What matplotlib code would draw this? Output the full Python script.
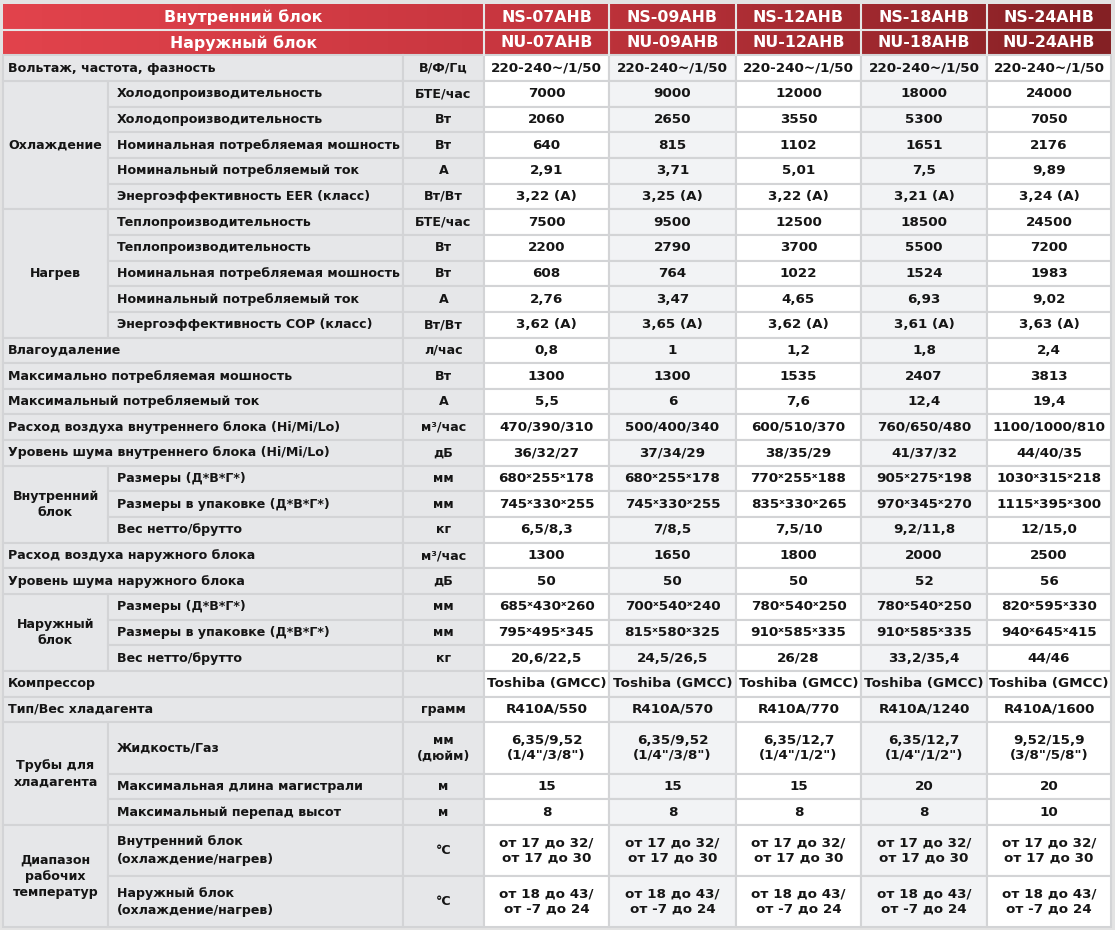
import numpy as np
import matplotlib.pyplot as plt
from matplotlib.patches import Rectangle
from matplotlib.colors import LinearSegmentedColormap

# Header models
indoor_models = ["NS-07AHB", "NS-09AHB", "NS-12AHB", "NS-18AHB", "NS-24AHB"]
outdoor_models = ["NU-07AHB", "NU-09AHB", "NU-12AHB", "NU-18AHB", "NU-24AHB"]

# Row labels and units
params = [
    "Вольтаж, частота, фазность",
    "Холодопроизводительность",
    "Холодопроизводительность",
    "Номинальная потребляемая мошность",
    "Номинальный потребляемый ток",
    "Энергоэффективность EER (класс)",
    "Теплопроизводительность",
    "Теплопроизводительность",
    "Номинальная потребляемая мошность",
    "Номинальный потребляемый ток",
    "Энергоэффективность COP (класс)",
    "Влагоудаление",
    "Максимально потребляемая мошность",
    "Максимальный потребляемый ток",
    "Расход воздуха внутреннего блока (Hi/Mi/Lo)",
    "Уровень шума внутреннего блока (Hi/Mi/Lo)",
    "Размеры (Д*В*Г*)",
    "Размеры в упаковке (Д*В*Г*)",
    "Вес нетто/брутто",
    "Расход воздуха наружного блока",
    "Уровень шума наружного блока",
    "Размеры (Д*В*Г*)",
    "Размеры в упаковке (Д*В*Г*)",
    "Вес нетто/брутто",
    "Компрессор",
    "Тип/Вес хладагента",
    "Жидкость/Газ",
    "Максимальная длина магистрали",
    "Максимальный перепад высот",
    "Внутренний блок\n(охлаждение/нагрев)",
    "Наружный блок\n(охлаждение/нагрев)",
]
units = [
    "В/Ф/Гц", "БТЕ/час", "Вт", "Вт", "А", "Вт/Вт",
    "БТЕ/час", "Вт", "Вт", "А", "Вт/Вт",
    "л/час", "Вт", "А", "м³/час", "дБ",
    "мм", "мм", "кг", "м³/час", "дБ",
    "мм", "мм", "кг", "", "грамм",
    "мм\n(дюйм)", "м", "м", "°C", "°C",
]

# Values per model column
ns07 = ["220-240~/1/50", "7000", "2060", "640", "2,91", "3,22 (А)",
        "7500", "2200", "608", "2,76", "3,62 (А)",
        "0,8", "1300", "5,5", "470/390/310", "36/32/27",
        "680ˣ255ˣ178", "745ˣ330ˣ255", "6,5/8,3", "1300", "50",
        "685ˣ430ˣ260", "795ˣ495ˣ345", "20,6/22,5", "Toshiba (GMCC)", "R410A/550",
        "6,35/9,52\n(1/4\"/3/8\")", "15", "8",
        "от 17 до 32/\nот 17 до 30", "от 18 до 43/\nот -7 до 24"]
ns09 = ["220-240~/1/50", "9000", "2650", "815", "3,71", "3,25 (А)",
        "9500", "2790", "764", "3,47", "3,65 (А)",
        "1", "1300", "6", "500/400/340", "37/34/29",
        "680ˣ255ˣ178", "745ˣ330ˣ255", "7/8,5", "1650", "50",
        "700ˣ540ˣ240", "815ˣ580ˣ325", "24,5/26,5", "Toshiba (GMCC)", "R410A/570",
        "6,35/9,52\n(1/4\"/3/8\")", "15", "8",
        "от 17 до 32/\nот 17 до 30", "от 18 до 43/\nот -7 до 24"]
ns12 = ["220-240~/1/50", "12000", "3550", "1102", "5,01", "3,22 (А)",
        "12500", "3700", "1022", "4,65", "3,62 (А)",
        "1,2", "1535", "7,6", "600/510/370", "38/35/29",
        "770ˣ255ˣ188", "835ˣ330ˣ265", "7,5/10", "1800", "50",
        "780ˣ540ˣ250", "910ˣ585ˣ335", "26/28", "Toshiba (GMCC)", "R410A/770",
        "6,35/12,7\n(1/4\"/1/2\")", "15", "8",
        "от 17 до 32/\nот 17 до 30", "от 18 до 43/\nот -7 до 24"]
ns18 = ["220-240~/1/50", "18000", "5300", "1651", "7,5", "3,21 (А)",
        "18500", "5500", "1524", "6,93", "3,61 (А)",
        "1,8", "2407", "12,4", "760/650/480", "41/37/32",
        "905ˣ275ˣ198", "970ˣ345ˣ270", "9,2/11,8", "2000", "52",
        "780ˣ540ˣ250", "910ˣ585ˣ335", "33,2/35,4", "Toshiba (GMCC)", "R410A/1240",
        "6,35/12,7\n(1/4\"/1/2\")", "20", "8",
        "от 17 до 32/\nот 17 до 30", "от 18 до 43/\nот -7 до 24"]
ns24 = ["220-240~/1/50", "24000", "7050", "2176", "9,89", "3,24 (А)",
        "24500", "7200", "1983", "9,02", "3,63 (А)",
        "2,4", "3813", "19,4", "1100/1000/810", "44/40/35",
        "1030ˣ315ˣ218", "1115ˣ395ˣ300", "12/15,0", "2500", "56",
        "820ˣ595ˣ330", "940ˣ645ˣ415", "44/46", "Toshiba (GMCC)", "R410A/1600",
        "9,52/15,9\n(3/8\"/5/8\")", "20", "10",
        "от 17 до 32/\nот 17 до 30", "от 18 до 43/\nот -7 до 24"]
columns = [ns07, ns09, ns12, ns18, ns24]

# Group labels: (name, first row, number of rows)
groups = [
    ("Охлаждение", 1, 5),
    ("Нагрев", 6, 5),
    ("Внутренний\nблок", 16, 3),
    ("Наружный\nблок", 21, 3),
    ("Трубы для\nхладагента", 26, 3),
    ("Диапазон\nрабочих\nтемператур", 29, 2),
]
double_rows = [26, 29, 30]

# Layout (pixels)
x_edges = [3, 108, 403, 484, 609, 736, 861, 987, 1111]
top = 5
head_h = 25.2
unit_h = 25.65
label_bg = "#E6E7E9"
line_c = "#D3D4D6"
text_c = "#151515"
font = ["DejaVu Sans"]
fs = 9.1      # labels
fs_val = 9.7  # values
fs_head = 11.3

fig = plt.figure(figsize=(11.15, 9.3), dpi=100, facecolor="#E3E3E3")
ax = fig.add_axes([0, 0, 1, 1])
ax.set_xlim(0, 1115)
ax.set_ylim(930, 0)
ax.axis("off")

# header gradient
cmap = LinearSegmentedColormap.from_list(
    "hdr", [(0, "#E2434C"), (0.45, "#C8363F"), (1, "#842024")])
ax.imshow(np.linspace(0, 1, 256)[None, :], cmap=cmap, aspect="auto",
          extent=[x_edges[0], x_edges[-1], top + 2 * head_h, top], zorder=0)
hdr_line = dict(color="#E6E6E6", lw=1.5, zorder=2)
ax.plot([x_edges[0], x_edges[-1]], [top + head_h] * 2, **hdr_line)
for xe in x_edges[3:-1]:
    ax.plot([xe, xe], [top, top + 2 * head_h], **hdr_line)
hcx = (x_edges[0] + x_edges[3]) / 2
ax.text(hcx, top + head_h / 2, "Внутренний блок", color="white", fontsize=fs_head,
        fontweight="bold", family=font, ha="center", va="center", zorder=3)
ax.text(hcx, top + 1.5 * head_h, "Наружный блок", color="white", fontsize=fs_head,
        fontweight="bold", family=font, ha="center", va="center", zorder=3)
for j, (mi, mo) in enumerate(zip(indoor_models, outdoor_models)):
    cx = (x_edges[3 + j] + x_edges[4 + j]) / 2
    ax.text(cx, top + head_h / 2, mi, color="white", fontsize=fs_head,
            fontweight="bold", family=font, ha="center", va="center", zorder=3)
    ax.text(cx, top + 1.5 * head_h, mo, color="white", fontsize=fs_head,
            fontweight="bold", family=font, ha="center", va="center", zorder=3)

# row positions
heights = [2 * unit_h if i in double_rows else unit_h for i in range(len(params))]
y_tops = top + 2 * head_h + np.concatenate([[0], np.cumsum(heights)[:-1]])

grouped = {}
for name, start, n in groups:
    for r in range(start, start + n):
        grouped[r] = (name, start, n)


def cell(x0, x1, y0, h, fc):
    ax.add_patch(Rectangle((x0, y0), x1 - x0, h, facecolor=fc,
                           edgecolor=line_c, lw=1.5, zorder=1))


# group cells
for name, start, n in groups:
    y0 = y_tops[start]
    h = sum(heights[start:start + n])
    cell(x_edges[0], x_edges[1], y0, h, label_bg)
    ax.text((x_edges[0] + x_edges[1]) / 2, y0 + h / 2, name, fontsize=fs,
            fontweight="bold", family=font, color=text_c, ha="center",
            va="center", linespacing=1.3, zorder=3)

for i, (p, u) in enumerate(zip(params, units)):
    y0, h = y_tops[i], heights[i]
    yc = y0 + h / 2
    if i in grouped:
        cell(x_edges[1], x_edges[2], y0, h, label_bg)
        px = x_edges[1] + 9
    else:
        cell(x_edges[0], x_edges[2], y0, h, label_bg)
        px = x_edges[0] + 5
    ax.text(px, yc, p, fontsize=fs, fontweight="bold", family=font,
            color=text_c, ha="left", va="center", linespacing=1.45, zorder=3)
    cell(x_edges[2], x_edges[3], y0, h, label_bg)
    ax.text((x_edges[2] + x_edges[3]) / 2, yc, u, fontsize=fs, fontweight="bold",
            family=font, color=text_c, ha="center", va="center",
            linespacing=1.25, zorder=3)
    for j, col in enumerate(columns):
        fc = "#FFFFFF" if j % 2 == 0 else "#F2F3F5"
        cell(x_edges[3 + j], x_edges[4 + j], y0, h, fc)
        ax.text((x_edges[3 + j] + x_edges[4 + j]) / 2, yc, col[i], fontsize=fs_val,
                fontweight="bold", family=font, color=text_c, ha="center",
                va="center", linespacing=1.2, zorder=3)

fig.savefig("out.png", dpi=100, facecolor=fig.get_facecolor())
